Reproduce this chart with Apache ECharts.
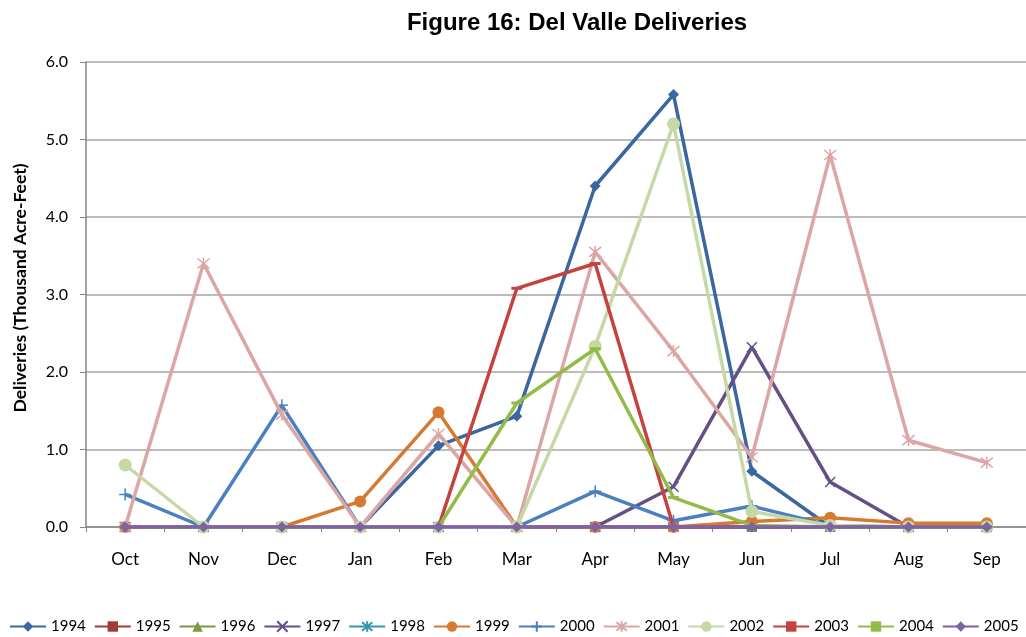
<!DOCTYPE html>
<html><head><meta charset="utf-8">
<script src="https://cdn.jsdelivr.net/npm/echarts@6/dist/echarts.min.js"></script>
<style>html,body{margin:0;padding:0;background:#fff}#c{width:1026px;height:637px}</style>
</head><body><div id="c"></div>
<script>
const months = ['Oct','Nov','Dec','Jan','Feb','Mar','Apr','May','Jun','Jul','Aug','Sep'];
const yTicks = [0,1,2,3,4,5,6];
const years = ['1994','1995','1996','1997','1998','1999','2000','2001','2002','2003','2004','2005'];
const d1994 = [0,0,0,0,1.05,1.43,4.40,5.58,0.72,0,0,0];
const d1995 = [0,0,0,0,0,0,0,0,0,0,0,0];
const d1996 = [0,0,0,0,0,0,0,0,0,0,0,0];
const d1997 = [0,0,0,0,0,0,0,0.52,2.32,0.58,0,0];
const d1998 = [0,0,0,0,0,0,0,0,0,0,0,0];
const d1999 = [0,0,0,0.33,1.48,0,0,0,0.07,0.12,0.05,0.05];
const d2000 = [0.42,0,1.57,0,0,0,0.46,0.08,0.27,0.02,0,0];
const d2001 = [0,3.40,1.45,0,1.20,0,3.55,2.27,0.90,4.80,1.12,0.83];
const d2002 = [0.80,0,0,0,0,0,2.33,5.20,0.20,0.02,0,0];
const d2003 = [0,0,0,0,0,3.08,3.40,0,0,0,0,0];
const d2004 = [0,0,0,0,0,1.60,2.30,0.38,0.02,0,0,0];
const d2005 = [0,0,0,0,0,0,0,0,0,0,0,0];
const allData = [d1994,d1995,d1996,d1997,d1998,d1999,d2000,d2001,d2002,d2003,d2004,d2005];
const colors = ['#3A67A0','#A23B37','#7D9A3F','#654F85','#3596AE','#D67A32','#4A80C0','#DBA6A4','#C5D8A6','#C4433F','#93BB4A','#7F62A6'];
const STAR = 'path://M0,0L10,10M10,0L0,10M5,-1L5,11';
const XMARK = 'path://M0,0L10,10M10,0L0,10';
const PLUS = 'path://M0,5L10,5M5,0L5,10';
const symbols = ['diamond','rect','triangle',XMARK,STAR,'circle',PLUS,STAR,'circle','rect','rect','diamond'];
const sizes = [11,10,10,10,10,12,12,12,13,[11,3],[11,3],11];
const strokeOnly = {3:1,4:1,6:1,7:1};
const FONT = 'Lato, Liberation Sans, Arial';
const series = years.map((y,i)=>({
  name:y, type:'line', data:allData[i], symbol:symbols[i], symbolSize:sizes[i],
  z: 2+i,
  lineStyle:{width:3.5,color:colors[i]},
  itemStyle: strokeOnly[i] ? {color:colors[i],borderColor:colors[i],borderWidth:1.5} : {color:colors[i]},
  emphasis:{disabled:true}
}));
const chart = echarts.init(document.getElementById('c'));
chart.setOption({
  animation:false,
  title:{text:'Figure 16: Del Valle Deliveries',left:572,top:6,textAlign:'center',
    textStyle:{fontFamily:'Liberation Sans, Arial',fontSize:24,fontWeight:'bold',color:'#000'}},
  grid:{left:86,right:0,top:62,bottom:110},
  legend:{bottom:3,left:9,width:1060,padding:0,itemWidth:36,itemHeight:13,itemGap:8,
    textStyle:{fontFamily:FONT,fontSize:15,color:'#000'},
    data:years},
  graphic:[{type:'text',x:20,y:288,rotation:Math.PI/2,
    style:{text:'Deliveries (Thousand Acre-Feet)',font:'bold 17.5px '+FONT,fill:'#000',
      textAlign:'center',textVerticalAlign:'middle'}}],
  xAxis:{type:'category',data:months,boundaryGap:true,
    axisLine:{lineStyle:{color:'#868686',width:1.5}},
    axisTick:{show:true,interval:0,length:5,lineStyle:{color:'#868686'}},
    axisLabel:{fontFamily:FONT,fontSize:17,color:'#000',margin:24}},
  yAxis:{type:'value',min:0,max:6,interval:1,
    axisLine:{show:true,lineStyle:{color:'#868686',width:1.5}},
    axisTick:{show:true,length:6,inside:false,lineStyle:{color:'#868686'}},
    splitLine:{lineStyle:{color:'#A6A6A6',width:1.5}},
    axisLabel:{fontFamily:FONT,fontSize:16,color:'#000',margin:18,formatter:v=>v.toFixed(1)}},
  series:series
});
</script></body></html>
